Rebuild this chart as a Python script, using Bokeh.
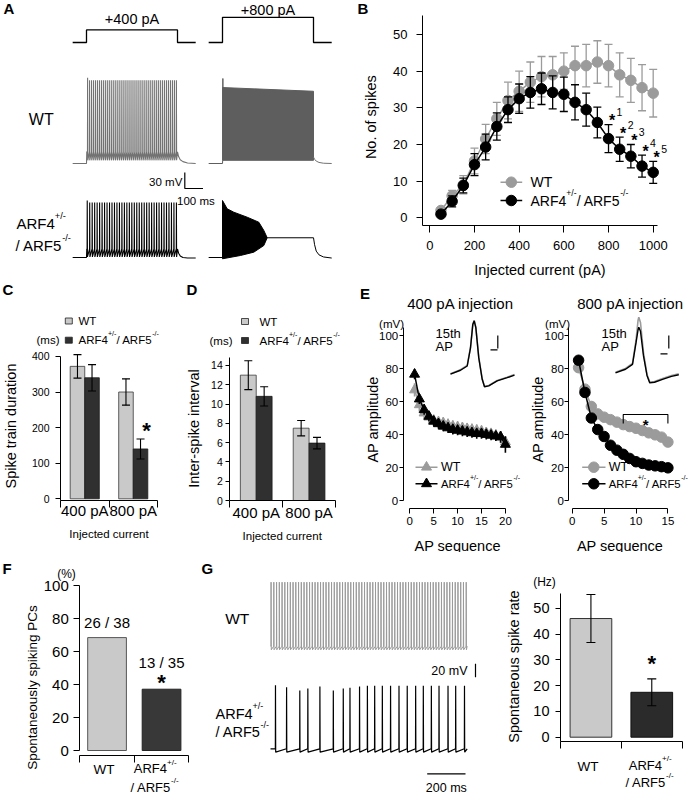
import math
import numpy as np
from bokeh.plotting import figure
from bokeh.models import Range1d, Label, FixedTicker, LinearAxis
from bokeh.layouts import row, column
from bokeh.embed import file_html
from bokeh.resources import INLINE

FONT = "Liberation Sans"
SX = 1.0
SY = 1.0
FSC = 1.0

WT_C = "#9b9b9b"
KO_C = "#000000"
WT_TRACE = "#727272"
WT_BLOCK = "#5e5e5e"
WT_TRACE_G = "#9a9a9a"
BAR_WT = "#c9c9c9"
BAR_KO = "#303030"

# ------------------------------------------------------------------ DATA
# A: command steps (pA) and example traces (ms, mV)
cmd_amps = [400, 800]
cmd_on, cmd_off, cmd_pre, cmd_post = 0, 500, -76, 600
a_rest = -70
wt400_n, wt400_first, wt400_last = 46, 6, 494
wt400_peak, wt400_first_peak, wt400_plateau, wt400_ahp = 86, 91, -48, -64
wt400_decay_t = [500, 506, 515, 530, 555, 600]
wt400_decay_v = [-48, -57, -63, -66.5, -69, -70]
ko400_n, ko400_first, ko400_last = 37, 4, 494
ko400_peak, ko400_first_peak, ko400_plateau, ko400_ahp = 33, 37, -54, -69
ko400_decay_t = [500, 506, 515, 530, 555, 600]
ko400_decay_v = [-54, -62, -67, -70, -71, -71]
wt800_block_t = [1, 1, 500, 500]
wt800_block_v = [-64, 72.5, 65.5, -64]
wt800_first_peak = 89.5
wt800_decay_t = [500, 506, 515, 530, 555, 600]
wt800_decay_v = [-58, -62, -65.5, -68, -69.5, -70]
ko800_top_t = [0, 25.6, 62, 135.6, 199.5, 227, 245.6]
ko800_top_v = [36.9, 21.4, 15, 5.6, -3.8, -19.3, -33]
ko800_bot_t = [245.6, 227, 172, 99, 0]
ko800_bot_v = [-33, -47.5, -60, -66.2, -72.4]
ko800_hold_v = -33
ko800_decay_t = [500, 506, 515, 530, 555, 600]
ko800_decay_v = [-33, -46, -58, -65, -69, -71]
a_bar_mv, a_bar_ms = 30, 100

# B: number of spikes vs injected current
b_current = [50, 100, 150, 200, 250, 300, 350, 400, 450, 500,
             550, 600, 650, 700, 750, 800, 850, 900, 950, 1000]
b_wt = [2.0, 6.0, 9.0, 15.5, 21.5, 27.0, 32.0, 34.5, 37.0, 38.5,
        39.0, 40.0, 41.5, 41.5, 42.5, 41.5, 39.0, 37.5, 35.5, 34.0]
b_wt_err = [0.5, 1.5, 2.5, 3.5, 4.0, 4.5, 5.0, 5.5, 5.5, 5.5,
            5.0, 5.0, 5.3, 5.8, 5.8, 5.8, 6.0, 6.0, 6.3, 6.5]
b_ko = [1.0, 4.5, 8.8, 14.5, 19.3, 24.9, 29.5, 32.5, 34.2, 35.2,
        34.2, 33.7, 31.5, 29.5, 26.0, 21.6, 18.7, 16.8, 14.1, 12.4]
b_ko_err = [0.5, 1.5, 2.0, 3.0, 3.5, 3.7, 3.5, 4.0, 4.3, 4.3,
            4.5, 4.7, 4.8, 4.5, 4.2, 3.8, 3.3, 3.2, 3.0, 3.0]
b_sig_idx = [15, 16, 17, 18, 19]
b_sig_labels = ["1", "2", "3", "4", "5"]

# C: spike train duration (ms)
groups = ["400 pA", "800 pA"]
c_wt = [372, 300]
c_wt_err = [33, 37]
c_ko = [340, 140]
c_ko_err = [37, 28]
# D: inter-spike interval (ms)
d_wt = [13.0, 7.5]
d_wt_err = [1.5, 0.8]
d_ko = [10.8, 5.95]
d_ko_err = [1.0, 0.6]

# E: AP amplitude vs AP sequence
e400_seq = list(range(1, 21))
e400_wt = [67.0, 58.0, 53.0, 50.5, 48.5, 47.5, 47.0, 46.0, 45.0, 44.5,
           44.0, 43.5, 43.0, 42.5, 42.0, 41.0, 40.5, 39.5, 38.5, 35.5]
e400_wt_err = [4, 4, 4, 3.5, 3.5, 3.5, 3.5, 3.5, 3.5, 3.5,
               3.5, 3.5, 3.5, 3.5, 3.5, 3.5, 3.5, 3.5, 3.5, 3.5]
e400_ko = [76.5, 61.5, 55.0, 51.0, 48.0, 46.5, 45.0, 44.0, 43.0, 42.5,
           42.0, 41.5, 41.0, 40.5, 40.5, 40.0, 39.5, 39.0, 38.5, 34.0]
e400_ko_err = [3, 3, 3, 3, 3, 3, 3, 3, 3, 3, 3, 3, 3, 3, 3, 3, 3, 3, 3.5, 5]
e800_seq = list(range(1, 16))
e800_wt = [80.5, 67.5, 57.0, 52.5, 50.5, 49.0, 47.5, 46.0, 44.8, 43.8,
           42.4, 41.0, 39.8, 38.4, 35.4]
e800_wt_err = [3, 3, 3, 2.5, 2.5, 2.5, 2.5, 2.5, 2.5, 2.5, 2.5, 2.5, 2.5, 2.5, 3]
e800_ko = [85.0, 65.5, 50.0, 43.0, 38.8, 33.5, 30.5, 28.0, 25.5, 23.5,
           22.5, 21.5, 21.0, 20.5, 19.8]
e800_ko_err = [2, 2, 2, 2, 2, 2.5, 2.5, 2.5, 2.5, 2.5, 2.5, 2.5, 2.5, 2.5, 2.5]
e800_sig_from, e800_sig_to, e800_sig_y, e800_sig_drop = 8, 15, 52.1, 5.4
# E insets: 15th AP waveform (ms, mV)
ap400_t = [-3.33, -1.9, -0.94, -0.47, -0.14, 0.06, 0.29, 0.71, 1.2, 1.53, 2.14, 3.34, 4.77, 5.81]
ap400_wt_v = [-55, -48.8, -42.2, -14.1, 21.9, 27.0, 16.7, -29.5, -62.7, -74.5, -73.0, -65.3, -60.2, -56.1]
ap400_ko_v = [-55.5, -49.5, -43, -15, 21, 26.5, 16, -30.5, -63.5, -75, -73.5, -66, -61, -57]
ap800_t = [-3.33, -1.9, -0.9, -0.4, -0.11, 0.0, 0.24, 0.67, 1.17, 1.57, 2.24, 3.39, 4.67, 5.71]
ap800_wt_v = [-55, -49.3, -41.6, -6.2, 24.6, 29.6, 21.4, -24.7, -58.5, -70.3, -69.2, -64.7, -60, -57.5]
ap800_ko_v = [-56, -50.5, -43, -10, 10, 14.2, 8, -30, -60, -71.5, -70.5, -66, -61.5, -59]
ins_bar_mv, ins_bar_ms = 20, 1

# F: spontaneously spiking PCs
f_labels = ["WT", "ARF4+/-/ARF5-/-"]
f_counts = [26, 13]
f_totals = [38, 35]

# G: spontaneous firing traces and rate
g_trace_end = 1027
g_wt_n, g_wt_first, g_wt_last = 72, 3, 1022
g_wt_peak, g_wt_base, g_wt_ahp = 39.5, -56, -61.4
g_ko_times = [26, 84, 153, 195, 258, 328, 380, 415, 465, 506, 544,
              584, 627, 671, 714, 758, 798, 840, 880, 927, 967, 1013]
g_ko_peaks = [40, 37, 32, 35, 38, 32, 35, 36, 38, 39, 39,
              39, 39, 39, 39, 39, 39, 39, 39, 39, 39, 39]
g_ko_base, g_ko_ahp = -55, -60
g_bar_mv, g_bar_ms = 20, 200
g_rate = [46.0, 17.4]
g_rate_err = [9.3, 5.2]

KO_PARTS = [("ARF4", False), ("+/-", True), ("/ ARF5", False), ("-/-", True)]
KO_L1 = [("ARF4", False), ("+/-", True)]
KO_L2 = [("/ ARF5", False), ("-/-", True)]


# ------------------------------------------------------------------ HELPERS
def R(v):
    return int(round(v))


AW = {"A": 667, "R": 722, "F": 611, "W": 944, "T": 611, "/": 278, " ": 278,
      "+": 584, "-": 333}


def tw(s, size):
    return sum(AW.get(c, 556) for c in s) * size / 1000.0


class Panel:
    """A figure whose frame fills its whole box; axes are pinned at the
    reference frame edges with fixed_location so that every text fits."""

    def __init__(self, box, frame, xcal, ycal):
        self.box, self.frame = box, frame
        self.xc = {"default": xcal}
        self.yc = {"default": ycal}
        bx0, by0, bx1, by1 = box
        self.p = figure(
            width=R(bx1 * SX) - R(bx0 * SX), height=R(by1 * SY) - R(by0 * SY),
            x_range=Range1d(self.X(bx0), self.X(bx1)),
            y_range=Range1d(self.Y(by1), self.Y(by0)),
            x_axis_type=None, y_axis_type=None,
            output_backend="svg", toolbar_location=None,
            min_border_left=0, min_border_right=0, min_border_top=0, min_border_bottom=0)
        self.p.outline_line_color = None
        self.p.background_fill_color = "white"
        self.p.border_fill_color = "white"

    def X(self, px, n="default"):
        p0, d0, k = self.xc[n]
        return d0 + (px - p0) / k

    def Y(self, py, n="default"):
        p0, d0, k = self.yc[n]
        return d0 + (p0 - py) / k

    def PX(self, x, n="default"):
        p0, d0, k = self.xc[n]
        return p0 + (x - d0) * k

    def PY(self, y, n="default"):
        p0, d0, k = self.yc[n]
        return p0 - (y - d0) * k

    def add_x(self, name, cal):
        self.xc[name] = cal
        d = dict(self.p.extra_x_ranges)
        d[name] = Range1d(self.X(self.box[0], name), self.X(self.box[2], name))
        self.p.extra_x_ranges = d

    def add_y(self, name, cal):
        self.yc[name] = cal
        d = dict(self.p.extra_y_ranges)
        d[name] = Range1d(self.Y(self.box[3], name), self.Y(self.box[1], name))
        self.p.extra_y_ranges = d

    def text(self, px, py, s, size, align="left", baseline="middle", bold=False,
             angle=0.0, color="black"):
        self.p.add_layout(Label(
            x=self.X(px), y=self.Y(py), text=s, text_font=FONT,
            text_font_size=f"{size * FSC:.1f}px", text_align=align,
            text_baseline=baseline, text_font_style="bold" if bold else "normal",
            angle=angle, text_color=color))

    def rich(self, px, py, parts, size, align="left", sup_ratio=0.62, rise=0.52):
        widths = [tw(t, size * sup_ratio if s else size) for t, s in parts]
        total = sum(widths)
        x = px - (total / 2 if align == "center" else (total if align == "right" else 0))
        for (t, s), w in zip(parts, widths):
            fs = size * sup_ratio if s else size
            self.text(x, py - (rise * size if s else 0), t, fs)
            x += w


def axis(P, side, ticks, size=11, out=5, standoff=4, bounds=None, show=True):
    fx0, fy0, fx1, fy1 = P.frame
    if side == "left":
        loc = P.X(fx0)
        bnd = bounds if bounds is not None else (P.Y(fy1), P.Y(fy0))
    else:
        loc = P.Y(fy1)
        bnd = bounds if bounds is not None else (P.X(fx0), P.X(fx1))
    ax = LinearAxis(ticker=FixedTicker(ticks=list(ticks)), fixed_location=loc)
    ax.bounds = bnd
    ax.major_tick_in = 0
    ax.major_tick_out = out
    ax.minor_tick_line_color = None
    ax.major_label_standoff = standoff
    ax.major_label_text_font = FONT
    ax.major_label_text_font_size = f"{size * FSC:.1f}px"
    if show:
        ax.major_label_text_color = "black"
    else:
        ax.major_label_overrides = {t: "" for t in ticks}
        ax.major_label_text_color = None
    ax.axis_line_color = "black"
    ax.major_tick_line_color = "black"
    ax.axis_line_width = 1
    ax.major_tick_line_width = 1
    P.p.add_layout(ax, side)
    return ax


def errbars(P, xs, ys, errs, cap_px, color, width=1.0):
    lo = [y - e for y, e in zip(ys, errs)]
    hi = [y + e for y, e in zip(ys, errs)]
    P.p.segment(x0=xs, y0=lo, x1=xs, y1=hi, line_color=color, line_width=width)
    if cap_px:
        hw = cap_px / 2.0 / P.xc["default"][2]
        for yy in (lo, hi):
            P.p.segment(x0=[x - hw for x in xs], y0=yy, x1=[x + hw for x in xs], y1=yy,
                        line_color=color, line_width=width)


def spike_path(times, peaks, v_base, v_ahp, t_start, t_end, rise=0.7, fall=1.1):
    xs, ys = [t_start], [v_base]
    for t, pk in zip(times, peaks):
        xs += [t - rise, t, t + fall]
        ys += [v_base, pk, v_ahp]
    xs.append(t_end)
    ys.append(v_base)
    return xs, ys


def step_trace(n, first, last, peak, first_peak, plateau, ahp, dec_t, dec_v):
    times = np.linspace(first, last, n)
    peaks = [first_peak] + [peak] * (n - 1)
    xs, ys = spike_path(times, peaks, plateau, ahp, 1.5, cmd_off)
    return [cmd_pre, cmd_on] + xs + list(dec_t), [a_rest, a_rest] + ys + list(dec_v)


# ------------------------------------------------------------------ PANEL A
A1 = Panel((0, 0, 340, 50), (0, 0, 340, 50), (86, 0, 0.182), (42, 0, 0.0315))
A1.add_x("t800", (222, 0, 0.182))
cmd_t = [cmd_pre, cmd_on, cmd_on, cmd_off, cmd_off, cmd_post]
for amp, xr in zip(cmd_amps, ["default", "t800"]):
    A1.p.line(cmd_t, [0, 0, amp, amp, 0, 0], x_range_name=xr,
              line_color="black", line_width=1.3)
    A1.text(A1.PX((cmd_on + cmd_off) / 2, xr), max(A1.PY(amp) - 10.5, 9.0), f"+{amp} pA", 14.5,
            align="center")
A1.text(3, 8, "A", 15, bold=True)

A2 = Panel((0, 50, 340, 278), (0, 50, 340, 278), (86, 0, 0.182), (163, a_rest, 0.533))
A2.add_x("t800", (222, 0, 0.182))
A2.add_y("ko", (257, a_rest, 0.533))
xs, ys = step_trace(wt400_n, wt400_first, wt400_last, wt400_peak, wt400_first_peak,
                    wt400_plateau, wt400_ahp, wt400_decay_t, wt400_decay_v)
A2.p.line(xs, ys, line_color=WT_TRACE, line_width=1.1)
xs, ys = step_trace(ko400_n, ko400_first, ko400_last, ko400_peak, ko400_first_peak,
                    ko400_plateau, ko400_ahp, ko400_decay_t, ko400_decay_v)
A2.p.line(xs, ys, y_range_name="ko", line_color="black", line_width=1.1)
# WT 800 pA
A2.p.patch(wt800_block_t, wt800_block_v, x_range_name="t800",
           fill_color=WT_BLOCK, line_color=WT_BLOCK, line_width=1)
A2.p.line([cmd_pre, cmd_on, 1, 2, 3], [a_rest, a_rest, wt800_block_v[0], wt800_first_peak,
                                        wt800_block_v[0]],
          x_range_name="t800", line_color=WT_BLOCK, line_width=1)
A2.p.line(wt800_decay_t, wt800_decay_v, x_range_name="t800", line_color=WT_TRACE, line_width=1)
# KO 800 pA
A2.p.patch(ko800_top_t + ko800_bot_t, ko800_top_v + ko800_bot_v, x_range_name="t800",
           y_range_name="ko", fill_color="black", line_color="black", line_width=1)
A2.p.line([cmd_pre, cmd_on] + [ko800_top_t[-1], cmd_off] + ko800_decay_t,
          [a_rest, a_rest] + [ko800_hold_v, ko800_hold_v] + ko800_decay_v,
          x_range_name="t800", y_range_name="ko", line_color="black", line_width=1)
# scale bar
sb_t, sb_v = A2.X(184.3), A2.Y(188)
A2.p.line([sb_t, sb_t, sb_t + a_bar_ms], [sb_v + a_bar_mv, sb_v, sb_v],
          line_color="black", line_width=1.2)
A2.text(A2.PX(sb_t) - 2.5, A2.PY(sb_v + a_bar_mv / 2) + 1, f"{a_bar_mv} mV", 11.5, align="right")
A2.text(A2.PX(sb_t + a_bar_ms / 2) + 2, 200, f"{a_bar_ms} ms", 11.5, align="center")
A2.text(40.8, 119, "WT", 16, align="center")
A2.rich(16, 223, KO_L1, 15)
A2.rich(15, 245, KO_L2, 15)

# ------------------------------------------------------------------ PANEL B
B = Panel((340, 0, 688, 278), (422, 15, 657, 225), (429.3, 0, 0.2234), (217.3, 0, 3.666))
axis(B, "left", range(0, 51, 10), 13, 6, 9)
axis(B, "below", range(0, 1001, 200), 13, 7, 8)
errbars(B, b_current, b_wt, b_wt_err, 8, WT_C, 1.3)
B.p.line(b_current, b_wt, line_color=WT_C, line_width=1.5)
B.p.scatter(b_current, b_wt, marker="circle", size=10.5 * FSC, fill_color=WT_C, line_color=WT_C)
errbars(B, b_current, b_ko, b_ko_err, 8, KO_C, 1.3)
B.p.line(b_current, b_ko, line_color=KO_C, line_width=1.5)
B.p.scatter(b_current, b_ko, marker="circle", size=10.5 * FSC, fill_color=KO_C, line_color=KO_C)
for py, col in ((181.7, WT_C), (200, KO_C)):
    yy = B.Y(py)
    B.p.line([B.X(500), B.X(521.7)], [yy, yy], line_color=col, line_width=1.5)
    B.p.scatter([B.X(510.8)], [yy], marker="circle", size=10.5 * FSC, fill_color=col, line_color=col)
B.text(530, 181.7, "WT", 14)
B.rich(530, 200, KO_PARTS, 14)
for k, i in enumerate(b_sig_idx):
    sx = B.PX(b_current[i]) + 3.5
    sy = B.PY(b_ko[i] + b_ko_err[i]) - 8
    B.text(sx, sy + 4, "*", 16, align="center", bold=True)
    B.text(sx + 4.5, sy - 4.5, b_sig_labels[k], 10.5)
B.text(357, 8, "B", 15, bold=True)
B.text(370, 116.7, "No. of spikes", 14.5, align="center", angle=math.pi / 2)
B.text(539.5, 269.5, "Injected current (pA)", 14.5, align="center")

# ------------------------------------------------------------------ PANELS C, D
grp = [1, 2]
BO, BW = 0.15, 0.3


def group_bars(P, wt, wt_err, ko, ko_err, cap):
    xw = [g - BO for g in grp]
    xk = [g + BO for g in grp]
    P.p.vbar(x=xw, top=wt, bottom=0, width=BW, fill_color=BAR_WT, line_color="#3a3a3a", line_width=0.8)
    P.p.vbar(x=xk, top=ko, bottom=0, width=BW, fill_color=BAR_KO, line_color="#1a1a1a", line_width=0.8)
    errbars(P, xw, wt, wt_err, cap, "black", 1.1)
    errbars(P, xk, ko, ko_err, cap, "black", 1.1)


def bar_legend(P, box_px, wt_py, ko_py, text_px, unit_right_px):
    for py, col in ((wt_py, BAR_WT), (ko_py, BAR_KO)):
        P.p.rect(x=[P.X(box_px)], y=[P.Y(py)], width=7, height=6, width_units="screen",
                 height_units="screen", fill_color=col, line_color="#222222", line_width=0.8)
    P.text(text_px, wt_py, "WT", 11.5)
    P.rich(text_px, ko_py, KO_PARTS, 11.5)
    P.text(unit_right_px, ko_py, "(ms)", 11.5, align="right")


C = Panel((0, 278, 185, 552), (60, 310, 157, 500), (60, 0.5, 48.5), (498.3, 0, 0.356))
axis(C, "left", range(0, 401, 100), 10.5, 5, 6, bounds=(C.Y(500), 400))
axis(C, "below", [0.5, 1.5, 2.5], out=7, show=False)
group_bars(C, c_wt, c_wt_err, c_ko, c_ko_err, 8)
bar_legend(C, 68.3, 320.5, 339.7, 78, 59)
C.text(C.PX(grp[1] + BO) + 6, C.PY(c_ko[1] + c_ko_err[1]) - 13 + 5, "*", 22, align="center", bold=True)
for g, lab in zip(grp, groups):
    C.text(C.PX(g), 510, lab, 15, align="center")
C.text(108.5, 533.3, "Injected current", 11.5, align="center")
C.text(10, 425.5, "Spike train duration", 14.5, align="center", angle=math.pi / 2)
C.text(2, 289, "C", 15, bold=True)

D = Panel((185, 278, 358, 552), (229.3, 310, 335, 500), (229.3, 0.5, 52.85), (500, 0, 9.643))
axis(D, "left", range(0, 15, 2), 10.5, 4, 3, bounds=(D.Y(500), 14.8))
axis(D, "below", [0.5, 1.5, 2.5], out=7, show=False)
group_bars(D, d_wt, d_wt_err, d_ko, d_ko_err, 8)
bar_legend(D, 244.5, 321, 340, 259, 232)
for g, lab in zip(grp, groups):
    D.text(D.PX(g), 511.7, lab, 15, align="center")
D.text(281.7, 535, "Injected current", 11.5, align="center")
D.text(193.5, 428, "Inter-spike interval", 14.5, align="center", angle=math.pi / 2)
D.text(186, 289, "D", 15, bold=True)

# ------------------------------------------------------------------ PANEL E


def e_panel(box, frame, xcal, seq, wt, wt_err, ko, ko_err, marker, msize, xticks, xmax,
            leg_px, title, title_cx, ins_cal, ap_t, ap_wt, ap_ko, ins_bar_v_px, ins_bar_h_px,
            txt_left, unit_cx, ylab_cx):
    P = Panel(box, frame, xcal, (500, 0, 1.65))
    axis(P, "left", range(0, 101, 20), 11.5, 4, 1, bounds=(0, 105))
    axis(P, "below", xticks, 11.5, 5, 3, bounds=(0, xmax))
    errbars(P, seq, wt, wt_err, 0, WT_C, 1.6)
    P.p.line(seq, wt, line_color=WT_C, line_width=1.5)
    P.p.scatter(seq, wt, marker=marker, size=msize * FSC, fill_color=WT_C, line_color=WT_C)
    errbars(P, seq, ko, ko_err, 0, KO_C, 1.6)
    P.p.line(seq, ko, line_color=KO_C, line_width=1.5)
    P.p.scatter(seq, ko, marker=marker, size=msize * FSC, fill_color=KO_C, line_color=KO_C)
    lx0, lx1, lm, ltx = leg_px
    for py, col in ((466.7, WT_C), (483.3, KO_C)):
        yy = P.Y(py)
        P.p.line([P.X(lx0), P.X(lx1)], [yy, yy], line_color=col, line_width=1.5)
        P.p.scatter([P.X(lm)], [yy], marker=marker, size=msize * FSC, fill_color=col, line_color=col)
    P.text(ltx, 466.7, "WT", 12.5)
    P.rich(ltx, 483.3, KO_PARTS, 11.3)
    # inset
    P.add_x("ins", ins_cal[0])
    P.add_y("ins", ins_cal[1])
    P.p.line(ap_t, ap_wt, x_range_name="ins", y_range_name="ins", line_color=WT_C, line_width=1.6)
    P.p.line(ap_t, ap_ko, x_range_name="ins", y_range_name="ins", line_color=KO_C, line_width=1.4)
    vt, vy = P.X(ins_bar_v_px[0], "ins"), P.Y(ins_bar_v_px[1], "ins")
    P.p.line([vt, vt], [vy, vy + ins_bar_mv], x_range_name="ins", y_range_name="ins",
             line_color="black", line_width=1.2)
    ht, hy = P.X(ins_bar_h_px[0], "ins"), P.Y(ins_bar_h_px[1], "ins")
    P.p.line([ht, ht + ins_bar_ms], [hy, hy], x_range_name="ins", y_range_name="ins",
             line_color="black", line_width=1.2)
    P.text(txt_left, 333.3, "15th", 13)
    P.text(txt_left, 345.5, "AP", 13)
    P.text(title_cx, 303, title, 15, align="center")
    P.text(unit_cx, 323.3, "(mV)", 11.5, align="center")
    P.text(ylab_cx, 419, "AP amplitude", 14.5, align="center", angle=math.pi / 2)
    P.text(P.PX(xmax / 2), 545, "AP sequence", 14.5, align="center")
    return P


E1 = e_panel((358, 278, 528, 552), (402.7, 310, 516, 508.3), (409.3, 0, 4.78),
             e400_seq, e400_wt, e400_wt_err, e400_ko, e400_ko_err, "triangle", 10,
             range(0, 21, 5), 20, (415, 437, 426, 440.5), "400 pA injection", 460,
             ((473.3, 0, 7.0), (373.3, -55, 0.65)), ap400_t, ap400_wt_v, ap400_ko_v,
             (497.3, 348), (490, 349.3), 435, 391, 372)
E1.text(359.5, 293, "E", 15, bold=True)

E2 = e_panel((528, 278, 688, 552), (568.3, 310, 684, 508.3), (571.7, 0, 6.38),
             e800_seq, e800_wt, e800_wt_err, e800_ko, e800_ko_err, "circle", 10.5,
             range(0, 16, 5), 15, (581.7, 605, 593.3, 608.3), "800 pA injection", 630,
             ((638.3, 0, 7.0), (371.7, -55, 0.65)), ap800_t, ap800_wt_v, ap800_ko_v,
             (668.3, 348), (660, 353.3), 601, 557, 537)
E2.p.line([e800_sig_from, e800_sig_from, e800_sig_to, e800_sig_to],
          [e800_sig_y - e800_sig_drop, e800_sig_y, e800_sig_y, e800_sig_y - e800_sig_drop],
          line_color="black", line_width=1.1)
E2.text(E2.PX((e800_sig_from + e800_sig_to) / 2), E2.PY(e800_sig_y) + 10, "*", 15,
        align="center", bold=True)

# ------------------------------------------------------------------ PANEL F
F = Panel((0, 552, 200, 800), (79.3, 575, 188.3, 755), (79.3, 0.5, 54.5), (750, 0, 1.65))
axis(F, "left", range(0, 101, 20), 15, 6, 5, bounds=(0, 100))
axis(F, "below", [0.5, 1.5, 2.5], out=7, show=False)
f_pct = [100.0 * c / t for c, t in zip(f_counts, f_totals)]
F.p.vbar(x=[grp[0]], top=[f_pct[0]], bottom=0, width=0.71, fill_color=BAR_WT,
         line_color="#555555", line_width=1)
F.p.vbar(x=[grp[1]], top=[f_pct[1]], bottom=0, width=0.71, fill_color="#383838",
         line_color="#222222", line_width=1)
F.text(F.PX(grp[0]), F.PY(f_pct[0]) - 15.5, f"{f_counts[0]} / {f_totals[0]}", 15, align="center")
F.text(F.PX(grp[1]), F.PY(f_pct[1]) - 27, f"{f_counts[1]} / {f_totals[1]}", 15, align="center")
F.text(F.PX(grp[1]), F.PY(f_pct[1]) - 12 + 5, "*", 22, align="center", bold=True)
F.text(F.PX(grp[0]) - 3, 769, f_labels[0], 13.5, align="center")
F.rich(133.3, 768.3, KO_L1, 13)
F.rich(130, 786.7, KO_L2, 13)
F.text(66, 573, "(%)", 12, align="center")
F.text(31.7, 687, "Spontaneously spiking PCs", 13.5, align="center", angle=math.pi / 2)
F.text(2, 567.5, "F", 15, bold=True)

# ------------------------------------------------------------------ PANEL G traces
G = Panel((200, 552, 482, 800), (200, 552, 482, 800), (270, 0, 0.1915), (645, g_wt_base + 1, 0.67))
G.add_y("ko", (748.3, g_ko_base, 0.67))
xs, ys = spike_path(np.linspace(g_wt_first, g_wt_last, g_wt_n), [g_wt_peak] * g_wt_n,
                    g_wt_base, g_wt_ahp, 0, g_trace_end)
G.p.line(xs, ys, line_color=WT_TRACE_G, line_width=1)
xs, ys = spike_path(g_ko_times, g_ko_peaks, g_ko_base, g_ko_ahp, 0, g_trace_end)
G.p.line(xs, ys, y_range_name="ko", line_color="black", line_width=1.2)
vt, vy = G.X(475), G.Y(676.7)
G.p.line([vt, vt], [vy, vy + g_bar_mv], line_color="black", line_width=1.2)
G.text(467, 670, f"{g_bar_mv} mV", 12.5, align="right")
ht, hy = G.X(426.7), G.Y(773.3)
G.p.line([ht, ht + g_bar_ms], [hy, hy], line_color="black", line_width=1.2)
G.text(G.PX(ht + g_bar_ms / 2), 787.3, f"{g_bar_ms} ms", 12.5, align="center")
G.text(236.7, 618.3, "WT", 15.5, align="center")
G.rich(215, 713, KO_L1, 14.5)
G.rich(215, 731.7, KO_L2, 14.5)
G.text(201, 567.5, "G", 15, bold=True)

# ------------------------------------------------------------------ PANEL G bars
H = Panel((482, 552, 688, 800), (560, 585, 681.7, 741), (560, 0.5, 60.85), (736.7, 0, 2.58))
axis(H, "left", range(0, 51, 10), 14.5, 5, 6, bounds=(H.Y(741), 55.6))
axis(H, "below", [0.5, 1.5, 2.5], out=7, show=False)
H.p.vbar(x=[grp[0]], top=[g_rate[0]], bottom=0, width=0.685, fill_color=BAR_WT,
         line_color="#333333", line_width=1)
H.p.vbar(x=[grp[1]], top=[g_rate[1]], bottom=0, width=0.685, fill_color="#2b2b2b",
         line_color="#111111", line_width=1)
errbars(H, grp, g_rate, g_rate_err, 9, "black", 1.1)
H.text(H.PX(grp[1]), H.PY(g_rate[1] + g_rate_err[1]) - 20 + 5, "*", 22, align="center", bold=True)
H.text(H.PX(grp[0]) - 3, 766, "WT", 13.5, align="center")
H.rich(628.3, 765, KO_L1, 13)
H.rich(625, 781.7, KO_L2, 13)
H.text(544, 581.7, "(Hz)", 12, align="center")
H.text(513.3, 666, "Spontaneous spike rate", 14.5, align="center", angle=math.pi / 2)

# ------------------------------------------------------------------ LAYOUT
layout = column(
    row(column(A1.p, A2.p), B.p),
    row(C.p, D.p, E1.p, E2.p),
    row(F.p, G.p, H.p),
)

open("out.html", "w").write(file_html(layout, INLINE))
